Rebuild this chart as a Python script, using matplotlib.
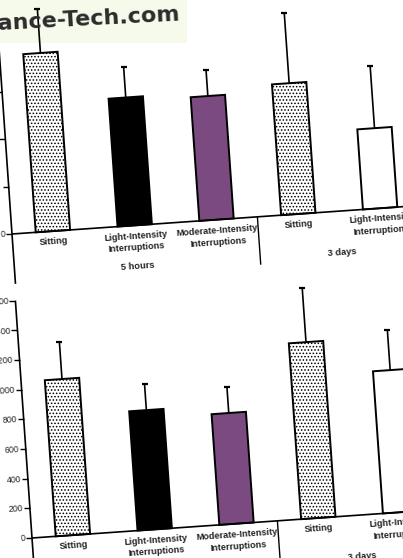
import matplotlib
matplotlib.use('Agg')
import matplotlib.pyplot as plt
import matplotlib.transforms as mtransforms
from matplotlib.patches import Rectangle
import numpy as np

# data
categories = ['Sitting', 'Light-Intensity\nInterruptions', 'Moderate-Intensity\nInterruptions',
              'Sitting', 'Light-Intensity\nInterruptions']
groups = ['5 hours', '3 days']
group_centers = [1, 3.5]
bar_colors = ['white', 'black', '#7a4a80', 'white', 'white']
bar_hatch = ['.....', None, None, '.....', None]

top_mean = [3.76, 2.70, 2.61, 2.76, 1.69]
top_err = [0.92, 0.65, 0.54, 1.48, 1.31]
top_ticks = [0, 1, 2, 3, 4, 5]
top_ticklabels = ['0', '', '', '', '', '']   # the rest lie outside the picture

bot_mean = [1052, 804, 746, 1185, 958]
bot_err = [248, 175, 175, 365, 270]
bot_ticks = [0, 200, 400, 600, 800, 1000, 1200, 1400, 1600]
bot_ticklabels = [str(t) for t in bot_ticks]

W, H = 403, 558
ANG = 4.0
FONT = ['Liberation Sans', 'DejaVu Sans']

plt.rcParams['hatch.linewidth'] = 0.7
fig = plt.figure(figsize=(W / 100, H / 100), dpi=100)


def panel(ox, oy, hpx, ymax, means, errs, ticks, ticklabels):
    wpx = 410
    ax = fig.add_axes([ox / W, oy / H, wpx / W, hpx / H])
    ax.set_xlim(-0.5, 4.5)
    ax.set_ylim(0, ymax)
    ax.set_axis_off()
    rot = mtransforms.Affine2D().rotate_deg_around(ox, oy, ANG)

    def tr(dx=0, dy=0):
        return mtransforms.offset_copy(ax.transData, fig=fig, x=dx, y=dy, units='dots') + rot

    T = tr()
    dpp = ymax / hpx
    x = np.arange(len(means))
    for i in x:
        ax.bar(i, means[i], width=0.42, color=bar_colors[i], edgecolor='black',
               linewidth=1.4, hatch=bar_hatch[i], transform=T, clip_on=False, zorder=2)
    ax.vlines(x, means, np.array(means) + np.array(errs), color='black', lw=1.2,
              transform=T, clip_on=False, zorder=1)
    ax.plot(x, np.array(means) + np.array(errs), ls='none', marker='_', ms=5, mew=1.6,
            color='black', transform=T, clip_on=False)
    # axes lines
    ax.hlines(0, -0.5, 4.5, color='black', lw=1.2, transform=T, clip_on=False)
    ax.vlines(-0.5, -50 * dpp, ymax, color='black', lw=1.2, transform=T, clip_on=False)
    ax.vlines(2.5, -48 * dpp, 0, color='black', lw=1.0, transform=T, clip_on=False)
    ax.plot(np.full(len(ticks), -0.5), ticks, ls='none', marker=0, ms=4, mew=1.0,
            color='black', transform=T, clip_on=False)
    for t, lab in zip(ticks, ticklabels):
        if lab:
            ax.text(-0.5, t, lab, transform=tr(dx=-7), ha='right', va='center',
                    rotation=ANG, rotation_mode='anchor', fontsize=6.3, family=FONT,
                    color='#222222', clip_on=False)
    for i, lab in enumerate(categories):
        ax.text(i, 0, lab, transform=tr(dy=-6), ha='center', va='top', rotation=ANG,
                rotation_mode='anchor', fontsize=6.6, fontweight='bold', family=FONT,
                color='#222222', linespacing=1.45)
    for g, c in zip(groups, group_centers):
        ax.text(c, 0, g, transform=tr(dy=-37), ha='center', va='top', rotation=ANG,
                rotation_mode='anchor', fontsize=6.7, fontweight='bold', family=FONT,
                color='#222222')
    return ax


panel(12, 324, 237.5, 5, top_mean, top_err, top_ticks, top_ticklabels)
panel(32, 20, 238, 1600, bot_mean, bot_err, bot_ticks, bot_ticklabels)

# watermark box at the top
fig.patches.append(Rectangle((0, (H - 43) / H), 187 / W, 43 / H, transform=fig.transFigure,
                             facecolor='#f6faea', edgecolor='none', zorder=-1))
fig.text(-3 / W, (H - 19) / H, 'ance-Tech.com', ha='left', va='center', rotation=3,
         fontsize=16, fontweight='bold', color='#2b2b2b', zorder=5)

fig.savefig('out.png', dpi=100)
